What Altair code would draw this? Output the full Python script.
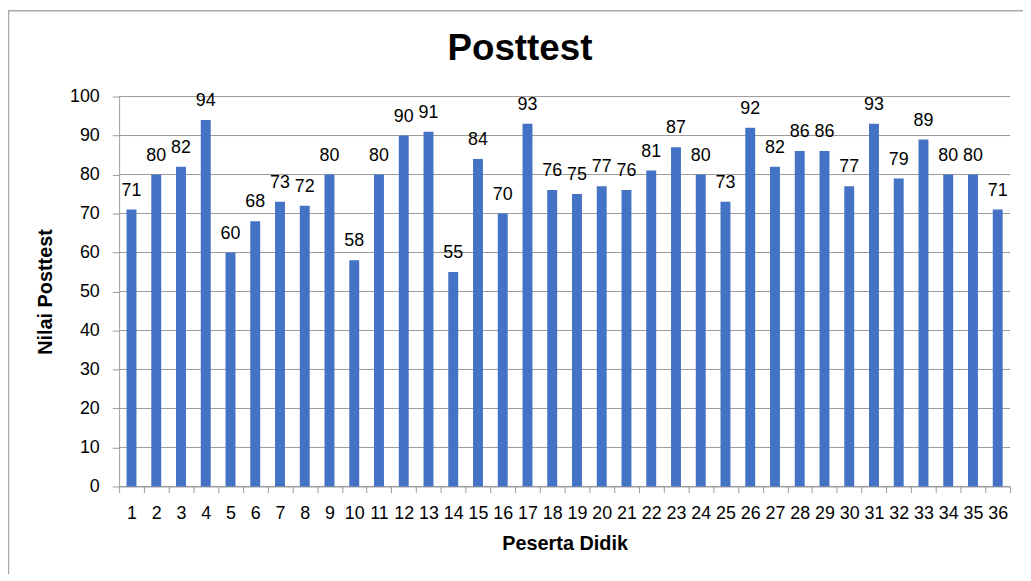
import altair as alt
import pandas as pd

participants = [str(i) for i in range(1, 37)]
scores = [71, 80, 82, 94, 60, 68, 73, 72, 80, 58, 80, 90, 91, 55, 84, 70, 93, 76,
          75, 77, 76, 81, 87, 80, 73, 92, 82, 86, 86, 77, 93, 79, 89, 80, 80, 71]
y_ticks = list(range(0, 101, 10))
chart_title = "Posttest"

df = pd.DataFrame({"Peserta": participants, "Nilai": scores})
grid_df = pd.DataFrame({"Nilai": y_ticks})

FONT = "Liberation Sans"
AXIS_GRAY = "#9a9a9a"
W, H = 898, 393

x_enc = alt.X(
    "Peserta:N", sort=participants, title="Peserta Didik",
    scale=alt.Scale(paddingInner=0, paddingOuter=0),
    axis=alt.Axis(labelAngle=0, labelOverlap=False, tickBand="extent", tickSize=6,
                  tickColor=AXIS_GRAY, domainColor=AXIS_GRAY, labelFontSize=18,
                  titleFontSize=20, labelPadding=12, titlePadding=12, labelFont=FONT,
                  titleFont=FONT, labelColor="black", titleColor="black", grid=False,
                  titleFontWeight="bold", labelFlush=False),
)
y_scale = alt.Scale(domain=[0, 100], nice=False)
y_enc = alt.Y(
    "Nilai:Q", title="Nilai Posttest", scale=y_scale,
    axis=alt.Axis(values=y_ticks, tickSize=7, labelPadding=13, tickColor=AXIS_GRAY,
                  domainColor=AXIS_GRAY, grid=False,
                  labelOverlap=False, labelFontSize=18, titleFontSize=20,
                  labelFont=FONT, titleFont=FONT, labelColor="black",
                  titleColor="black", titleFontWeight="bold", titlePadding=14,
                  labelFlush=False),
)

frame = alt.Chart(pd.DataFrame({"f": [0]})).mark_rect(
    fill="transparent", stroke="#a8a8a8", strokeWidth=1.5
).encode(x=alt.value(-111.5), x2=alt.value(960), y=alt.value(-86.5), y2=alt.value(600))

grid = alt.Chart(grid_df).mark_rule(color=AXIS_GRAY, strokeWidth=1).encode(
    y=y_enc, x=alt.value(0), x2=alt.value(W),
)

bars = alt.Chart(df).mark_bar(color="#4472C4", width=10).encode(x=x_enc, y=y_enc)

labels = alt.Chart(df).mark_text(
    baseline="alphabetic", dy=-14, fontSize=18, font=FONT, color="black"
).encode(x=x_enc, y=y_enc, text="Nilai:Q")

title = alt.Chart(pd.DataFrame({"t": [chart_title]})).mark_text(
    fontSize=37, font=FONT, fontWeight="bold", color="black",
    align="center", baseline="alphabetic"
).encode(x=alt.value(404), y=alt.value(-37), text="t:N")

chart = alt.layer(frame, grid, bars, labels, title).properties(
    width=W, height=H,
    padding={"left": 112, "top": 87, "right": 13, "bottom": 86},
    autosize=alt.AutoSizeParams(type="none"),
).configure_view(stroke=None)

chart.save("out.html", embed_options={"renderer": "svg", "actions": False})
